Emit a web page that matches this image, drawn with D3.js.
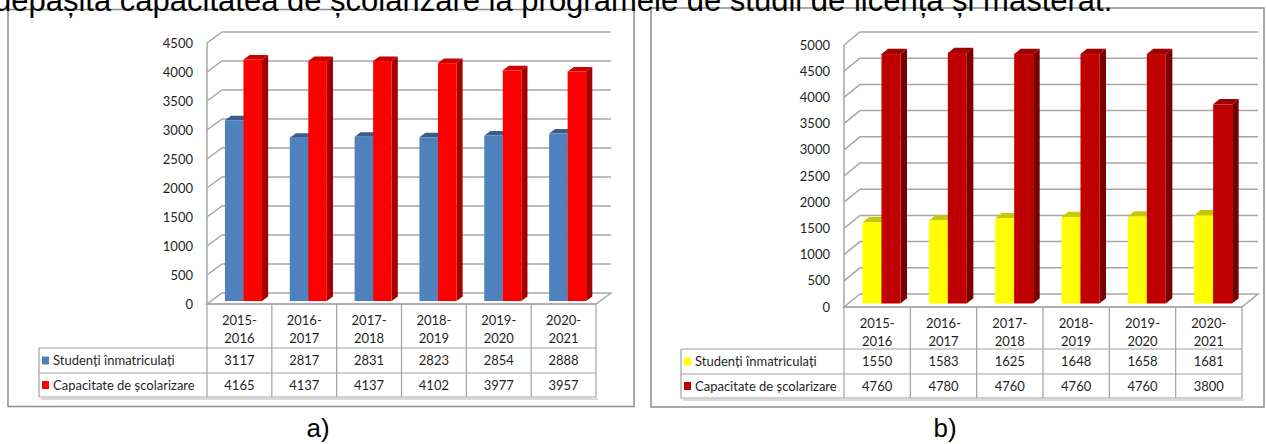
<!DOCTYPE html>
<html>
<head>
<meta charset="utf-8">
<script src="https://cdn.jsdelivr.net/npm/d3@7"></script>
<style>
  body { margin: 0; background: #fff; }
  svg { display: block; }
  .lbl { font-family: Lato, "Open Sans", sans-serif; fill: #1f1f1f; }
</style>
</head>
<body>
<div id="chart"></div>
<script>
// academic years (categories)
const years = ["2015-2016", "2016-2017", "2017-2018", "2018-2019", "2019-2020", "2020-2021"];
const seriesNames = ["Studenți înmatriculați", "Capacitate de școlarizare"];

// panel a)
const enrolledA = [3117, 2817, 2831, 2823, 2854, 2888];
const capacityA = [4165, 4137, 4137, 4102, 3977, 3957];
const ticksA = [0, 500, 1000, 1500, 2000, 2500, 3000, 3500, 4000, 4500];

// panel b)
const enrolledB = [1550, 1583, 1625, 1648, 1658, 1681];
const capacityB = [4760, 4780, 4760, 4760, 4760, 3800];
const ticksB = [0, 500, 1000, 1500, 2000, 2500, 3000, 3500, 4000, 4500, 5000];

const heading = "depășită capacitatea de școlarizare la programele de studii de licență și masterat.";

const svg = d3.select("#chart").append("svg")
    .attr("width", 1266)
    .attr("height", 444);

function drawPanel(p) {
    const g = svg.append("g");

    g.append("rect")
        .attr("x", p.frame[0]).attr("y", p.frame[1])
        .attr("width", p.frame[2]).attr("height", p.frame[3])
        .attr("fill", "#fff")
        .attr("stroke", "#8c8c8c")
        .attr("stroke-width", 1.5);

    const x = d3.scaleBand().domain(years).range([p.left, p.right]);
    const xs = d3.scaleBand().domain([0, 1]).range([0, x.bandwidth()])
        .paddingInner(0).paddingOuter(0.75);
    const maxV = d3.max(p.ticks);
    const y = d3.scaleLinear().domain([0, maxV]).range([p.base, p.top]);
    const dx = p.dx, dy = p.dy;
    const gridColor = "#a6a6a6";

    // walls: diagonal on side wall + horizontal on back wall
    g.selectAll(".grid")
        .data(p.ticks.slice(1))
        .enter().append("path")
        .attr("class", "grid")
        .attr("d", t => `M${p.left},${y(t)}L${p.left + dx},${y(t) - dy}H${p.right + dx}`)
        .attr("fill", "none")
        .attr("stroke", gridColor)
        .attr("stroke-width", 1.5);

    // floor
    g.append("path")
        .attr("d", `M${p.left},${y(0)}L${p.left + dx},${y(0) - dy}H${p.right + dx}L${p.right},${y(0)}Z`)
        .attr("fill", "#fff")
        .attr("stroke", gridColor)
        .attr("stroke-width", 1.5);

    // front edge of side wall
    g.append("line")
        .attr("x1", p.left).attr("x2", p.left)
        .attr("y1", y(maxV)).attr("y2", y(0))
        .attr("stroke", gridColor)
        .attr("stroke-width", 1.5);

    // value labels
    g.selectAll(".tick")
        .data(p.ticks)
        .enter().append("text")
        .attr("class", "lbl")
        .attr("x", p.left - 14)
        .attr("y", t => y(t))
        .attr("dy", "0.36em")
        .attr("text-anchor", "end")
        .style("font-size", "13px")
        .text(t => t);

    // 3d bars
    const f0 = 0.27, f1 = 0.68;
    const bars = [];
    years.forEach((yr, i) => {
        p.series.forEach((s, j) => {
            bars.push({ yr: yr, j: j, v: s.values[i], c: s.colors });
        });
    });

    g.selectAll(".bar")
        .data(bars)
        .enter().append("g")
        .attr("class", "bar")
        .each(function (d) {
            const sel = d3.select(this);
            const w = xs.bandwidth();
            const x0 = x(d.yr) + xs(d.j) + f0 * dx;
            const yb = y(0) - f0 * dy;
            const yt = y(d.v) - f0 * dy;
            const ddx = (f1 - f0) * dx, ddy = (f1 - f0) * dy;
            sel.append("path")
                .attr("d", `M${x0 + w},${yt}L${x0 + w + ddx},${yt - ddy}V${yb - ddy}L${x0 + w},${yb}Z`)
                .attr("fill", d.c[2]);
            sel.append("path")
                .attr("d", `M${x0},${yt}L${x0 + ddx},${yt - ddy}H${x0 + w + ddx}L${x0 + w},${yt}Z`)
                .attr("fill", d.c[1]);
            sel.append("rect")
                .attr("x", x0).attr("y", yt)
                .attr("width", w).attr("height", yb - yt)
                .attr("fill", d.c[0]);
        });

    // data table
    const r = p.rows;
    const lineColor = "#a0a0a0";
    const tbl = g.append("g")
        .attr("stroke", lineColor)
        .attr("stroke-width", 1.2);
    [r[1], r[2], r[3]].forEach(yy => {
        tbl.append("line").attr("x1", p.legendX).attr("x2", p.right).attr("y1", yy).attr("y2", yy);
    });
    tbl.append("line").attr("x1", p.left).attr("x2", p.right).attr("y1", r[0]).attr("y2", r[0]);
    years.forEach(yr => {
        tbl.append("line").attr("x1", x(yr)).attr("x2", x(yr)).attr("y1", r[0]).attr("y2", r[3]);
    });
    tbl.append("line").attr("x1", p.right).attr("x2", p.right).attr("y1", r[0]).attr("y2", r[3]);
    tbl.append("line").attr("x1", p.legendX).attr("x2", p.legendX).attr("y1", r[1]).attr("y2", r[3]);
    // soft shadow under the table
    g.append("line")
        .attr("x1", p.legendX + 2).attr("x2", p.right + 2)
        .attr("y1", r[3] + 2).attr("y2", r[3] + 2)
        .attr("stroke", "#d9d9d9").attr("stroke-width", 2);

    // header cells
    const head = g.selectAll(".head")
        .data(years)
        .enter().append("text")
        .attr("class", "lbl")
        .attr("text-anchor", "middle")
        .style("font-size", "13px");
    head.append("tspan")
        .attr("x", d => x(d) + x.bandwidth() / 2)
        .attr("y", r[0] + 21)
        .text(d => d.split("-")[0] + "-");
    head.append("tspan")
        .attr("x", d => x(d) + x.bandwidth() / 2)
        .attr("y", r[0] + 39)
        .text(d => d.split("-")[1]);

    // series rows
    p.series.forEach((s, j) => {
        const cy = (r[j + 1] + r[j + 2]) / 2;
        g.append("rect")
            .attr("x", p.legendX + 3).attr("y", cy - 4)
            .attr("width", 7).attr("height", 8)
            .attr("fill", s.colors[0]);
        g.append("text")
            .attr("class", "lbl")
            .attr("x", p.legendX + 14)
            .attr("y", cy)
            .attr("dy", "0.36em")
            .style("font-size", "13px")
            .text(seriesNames[j]);
        g.selectAll(".val" + j)
            .data(s.values)
            .enter().append("text")
            .attr("class", "lbl")
            .attr("x", (d, i) => x(years[i]) + x.bandwidth() / 2)
            .attr("y", cy)
            .attr("dy", "0.36em")
            .attr("text-anchor", "middle")
            .style("font-size", "13px")
            .text(d => d);
    });

    svg.append("text")
        .attr("x", p.caption[0])
        .attr("y", p.caption[1])
        .attr("text-anchor", "middle")
        .style("font-family", "'Liberation Sans', Arial, sans-serif")
        .style("font-size", "26px")
        .text(p.captionText);
}

drawPanel({
    frame: [8, 9.5, 626, 397],
    left: 207, right: 596, base: 304, top: 43,
    dx: 15, dy: 11,
    ticks: ticksA,
    legendX: 39,
    rows: [304, 348, 373, 397],
    series: [
        { values: enrolledA, colors: ["#4f81bd", "#385d8a", "#3a5f8c"] },
        { values: capacityA, colors: ["#ff0000", "#cc0000", "#a50000"] }
    ],
    caption: [318, 437],
    captionText: "a)"
});

drawPanel({
    frame: [651, 8, 613, 399],
    left: 844, right: 1242, base: 307, top: 45,
    dx: 16, dy: 13,
    ticks: ticksB,
    legendX: 681,
    rows: [307, 349, 374, 398],
    series: [
        { values: enrolledB, colors: ["#ffff00", "#c8c800", "#a8a800"] },
        { values: capacityB, colors: ["#c00000", "#a00000", "#7a0000"] }
    ],
    caption: [945, 437],
    captionText: "b)"
});

// heading line from the page above, cut at the top of the picture
svg.append("text")
    .attr("x", -6)
    .attr("y", 11)
    .style("font-family", "'Liberation Sans', Arial, sans-serif")
    .style("font-size", "31px")
    .style("fill", "#000")
    .text(heading);
</script>
</body>
</html>
